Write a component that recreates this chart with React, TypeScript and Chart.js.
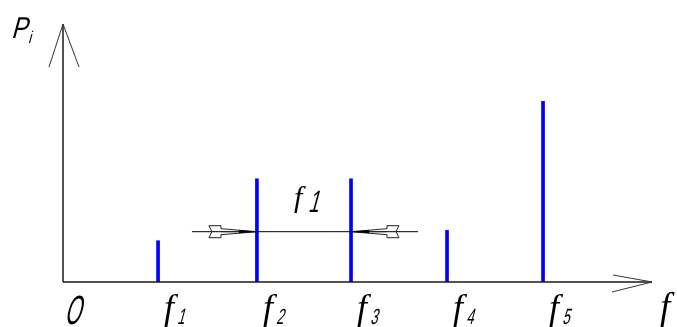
import { useEffect, useRef } from 'react';
import { Chart, registerables } from 'chart.js';

Chart.register(...registerables);

// ---- data ----
const frequencies = [0.99, 2.02, 3.0, 4.0, 5.0];
const amplitudes = [1.6, 4.0, 4.0, 2.0, 7.0];
const tickMain = 'f';
const tickSubs = ['1', '2', '3', '4', '5'];
const originLabel = 'O';
const xAxisLabel = 'f';
const yAxisLabel = 'P';
const yAxisSub = 'i';
const spacingMain = 'f';
const spacingSub = '1';
const spacingLevel = 1.95;
const X_MAX = 6.135;
const Y_MAX = 10;

function slantText(
  ctx: CanvasRenderingContext2D,
  text: string,
  x: number,
  y: number,
  font: string,
  sx: number,
  skew: number
) {
  ctx.save();
  ctx.font = font;
  ctx.textBaseline = 'alphabetic';
  ctx.textAlign = 'left';
  ctx.fillStyle = '#000';
  ctx.translate(x, y);
  ctx.transform(sx, 0, -skew, 1, 0, 0);
  ctx.fillText(text, 0, 0);
  ctx.restore();
}

function dart(ctx: CanvasRenderingContext2D, tipX: number, y: number, dir: number) {
  const pts: [number, number][] = [
    [-48, -6],
    [-36, -6],
    [-36, -3],
    [0, 0],
    [-36, 3],
    [-36, 6],
    [-48, 6],
    [-45, 0],
  ];
  ctx.save();
  ctx.strokeStyle = '#222';
  ctx.lineWidth = 1;
  ctx.beginPath();
  pts.forEach(([dx, dy], i) => {
    const px = tipX + dx * dir;
    const py = y + dy;
    if (i === 0) ctx.moveTo(px, py);
    else ctx.lineTo(px, py);
  });
  ctx.closePath();
  ctx.stroke();
  ctx.beginPath();
  ctx.moveTo(tipX - 36 * dir, y);
  ctx.lineTo(tipX, y);
  ctx.stroke();
  ctx.fillStyle = '#000';
  ctx.beginPath();
  ctx.moveTo(tipX - 18 * dir, y - 1.6);
  ctx.lineTo(tipX, y);
  ctx.lineTo(tipX - 18 * dir, y + 1.6);
  ctx.closePath();
  ctx.fill();
  ctx.restore();
}

const drawingPlugin = {
  id: 'drawing',
  afterDraw(chart: any) {
    const ctx: CanvasRenderingContext2D = chart.ctx;
    const xs = chart.scales.x;
    const ys = chart.scales.y;
    const x0 = xs.getPixelForValue(0);
    const y0 = ys.getPixelForValue(0);
    const xEnd = xs.right;
    const yTop = ys.top;

    ctx.save();
    // axes
    ctx.strokeStyle = '#1a1a1a';
    ctx.lineWidth = 1.5;
    ctx.beginPath();
    ctx.moveTo(x0, y0);
    ctx.lineTo(x0, yTop);
    ctx.moveTo(x0, y0);
    ctx.lineTo(xEnd, y0);
    ctx.stroke();

    // arrows
    ctx.lineWidth = 1;
    ctx.strokeStyle = '#333';
    ctx.beginPath();
    ctx.moveTo(x0 - 14, yTop + 43);
    ctx.lineTo(x0, yTop);
    ctx.lineTo(x0 + 16, yTop + 43);
    ctx.moveTo(xEnd - 39, y0 - 7);
    ctx.lineTo(xEnd, y0);
    ctx.lineTo(xEnd - 40, y0 + 10);
    ctx.stroke();

    // dimension line between f2 and f3
    const xa = xs.getPixelForValue(frequencies[1]);
    const xb = xs.getPixelForValue(frequencies[2]);
    const yd = ys.getPixelForValue(spacingLevel);
    ctx.strokeStyle = '#000';
    ctx.lineWidth = 1;
    ctx.beginPath();
    ctx.moveTo(xa - 65, yd);
    ctx.lineTo(xb + 67, yd);
    ctx.stroke();
    dart(ctx, xa, yd, 1);
    dart(ctx, xb, yd, -1);

    const mid = (xa + xb) / 2;
    slantText(ctx, spacingMain, mid - 10, yd - 25, 'italic 30px "Liberation Serif"', 1, 0);
    slantText(ctx, spacingSub, mid + 4, yd - 20, '31px "Liberation Sans"', 0.6, 0.27);

    // tick labels
    frequencies.forEach((f, i) => {
      const bx = xs.getPixelForValue(f);
      slantText(ctx, tickMain, bx + 6, 319, 'italic 36px "Liberation Serif"', 1, 0);
      slantText(ctx, tickSubs[i], bx + 19, 324, '22px "Liberation Sans"', 0.6, 0.27);
    });

    // origin
    slantText(ctx, originLabel, x0 + 1, 324, '41px "Liberation Sans"', 0.5, 0.27);
    // x axis label
    slantText(ctx, xAxisLabel, xEnd + 8, 318.5, 'italic 37px "Liberation Serif"', 1, 0);
    // y axis label
    slantText(ctx, yAxisLabel, 11, 38, '30px "Liberation Sans"', 0.8, 0.27);
    slantText(ctx, yAxisSub, 28, 43, '17px "Liberation Sans"', 0.8, 0.27);

    ctx.restore();
  },
};

export default function App() {
  const canvasRef = useRef<HTMLCanvasElement | null>(null);

  useEffect(() => {
    if (!canvasRef.current) return;
    const chart = new Chart(canvasRef.current, {
      type: 'bar',
      data: {
        datasets: [
          {
            data: frequencies.map((f, i) => ({ x: f, y: amplitudes[i] })),
            backgroundColor: '#0000ff',
            borderWidth: 0,
            barThickness: 3,
          } as any,
        ],
      },
      options: {
        responsive: false,
        maintainAspectRatio: false,
        devicePixelRatio: 1,
        animation: false,
        layout: { padding: { left: 63, right: 25, top: 24, bottom: 45 } },
        plugins: { legend: { display: false }, tooltip: { enabled: false } },
        scales: {
          x: { type: 'linear', min: 0, max: X_MAX, display: false, offset: false, grid: { offset: false } },
          y: { type: 'linear', min: 0, max: Y_MAX, display: false },
        },
      },
      plugins: [drawingPlugin],
    });
    return () => chart.destroy();
  }, []);

  return (
    <canvas
      ref={canvasRef}
      width={677}
      height={327}
      style={{ position: 'fixed', left: 0, top: 0, width: 677, height: 327, background: '#fff' }}
    />
  );
}
